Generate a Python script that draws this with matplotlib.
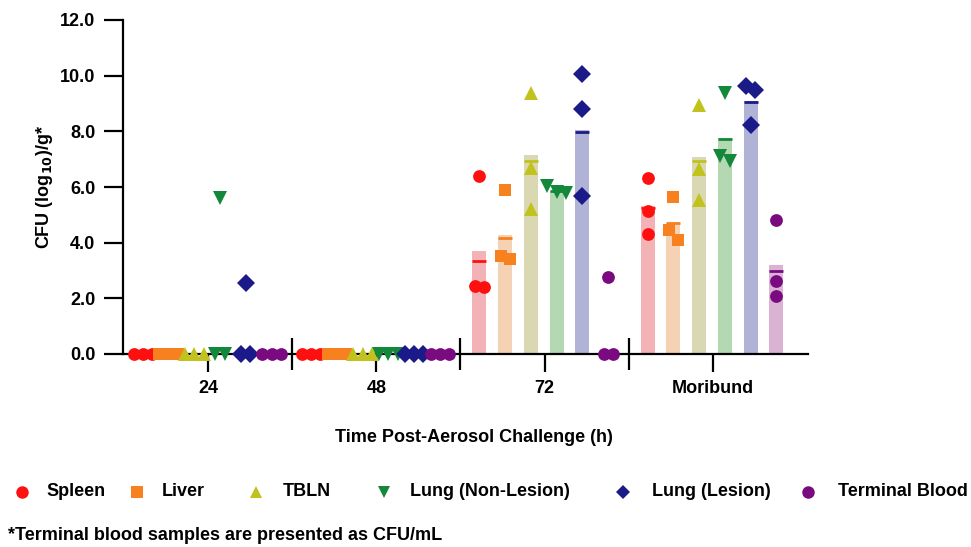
import numpy as np
import matplotlib
matplotlib.use("Agg")
import matplotlib.pyplot as plt

plt.rcParams['font.family'] = ['Liberation Sans', 'DejaVu Sans']
plt.rcParams['font.weight'] = 'bold'
plt.rcParams['mathtext.default'] = 'bf'

# ---------------- data ----------------
groups = ["24", "48", "72", "Moribund"]
tissues = ["Spleen", "Liver", "TBLN", "Lung (Non-Lesion)", "Lung (Lesion)", "Terminal Blood"]

# individual animal values per group (24, 48, 72, Moribund)
spleen = [[0, 0, 0], [0, 0, 0], [6.40, 2.40, 2.45], [6.31, 5.13, 4.30]]
liver = [[0, 0, 0], [0, 0, 0], [5.90, 3.42, 3.52], [5.65, 4.46, 4.08]]
tbln = [[0, 0, 0], [0, 0, 0], [9.39, 6.70, 5.20], [8.94, 6.65, 5.52]]
lung_nl = [[5.60, 0, 0], [0, 0, 0], [6.05, 5.80, 5.83], [9.38, 6.94, 7.13]]
lung_l = [[2.55, 0, 0], [0, 0, 0], [10.07, 8.81, 5.68], [9.63, 9.47, 8.22]]
blood = [[0, 0, 0], [0, 0, 0], [2.77, 0, 0], [4.82, 2.63, 2.10]]

# bar heights (nan = no bar) and summary line per group
bar_spleen = [np.nan, np.nan, 3.70, 5.30]
bar_liver = [np.nan, np.nan, 4.28, 4.72]
bar_tbln = [np.nan, np.nan, 7.14, 7.07]
bar_lung_nl = [np.nan, np.nan, 5.84, 7.77]
bar_lung_l = [np.nan, np.nan, 8.03, 9.08]
bar_blood = [np.nan, np.nan, np.nan, 3.20]

line_spleen = [np.nan, np.nan, 3.33, 5.25]
line_liver = [np.nan, np.nan, 4.15, 4.70]
line_tbln = [np.nan, np.nan, 6.95, 6.93]
line_lung_nl = [np.nan, np.nan, 5.84, 7.72]
line_lung_l = [np.nan, np.nan, 7.97, 9.04]
line_blood = [np.nan, np.nan, np.nan, 3.00]

yticks = [0, 2, 4, 6, 8, 10, 12]

values = [spleen, liver, tbln, lung_nl, lung_l, blood]
bars = [bar_spleen, bar_liver, bar_tbln, bar_lung_nl, bar_lung_l, bar_blood]
lines = [line_spleen, line_liver, line_tbln, line_lung_nl, line_lung_l, line_blood]

# ---------------- style ----------------
mcolors = ['#FF1010', '#F7801F', '#C2C21E', '#14883A', '#1A1A88', '#7A0A80']
bcolors = ['#F2B2B6', '#F5D2B4', '#DAD8B2', '#B4D9B2', '#B0B2D6', '#D9B2D4']
markers = ['o', 's', '^', 'v', 'D', 'o']
msizes = [9.2, 8.0, 9.5, 9.5, 9.5, 9.2]

W, H = 971, 547
fig = plt.figure(figsize=(W / 100, H / 100), dpi=100)
ax = fig.add_axes([123 / W, 1 - 354 / H, (808 - 123) / W, (354 - 20) / H])

slot = 0.153
barw = 0.083
jit = 0.055

for ti in range(6):
    for gi in range(4):
        xc = gi + (ti - 2.5) * slot - 0.005
        bh = bars[ti][gi]
        if not np.isnan(bh):
            ax.bar(xc, bh, width=barw, color=bcolors[ti], zorder=1, linewidth=0)
        lv = lines[ti][gi]
        if not np.isnan(lv):
            ax.hlines(lv, xc - barw / 2, xc + barw / 2, color=mcolors[ti], lw=2.0, zorder=2)
        # simple beeswarm
        vals = sorted(values[ti][gi], reverse=True)
        clusters = []
        for v in vals:
            if clusters and abs(clusters[-1][-1] - v) < 0.45:
                clusters[-1].append(v)
            else:
                clusters.append([v])
        for cl in clusters:
            k = len(cl)
            for j, v in enumerate(cl):
                xo = xc + (j - (k - 1) / 2) * jit
                ax.plot(xo, v, marker=markers[ti], color=mcolors[ti], ms=msizes[ti],
                        mew=0, ls='none', zorder=4, clip_on=False)

ax.set_xlim(-0.505, 3.565)
ax.set_ylim(0, 12)
for s in ['top', 'right']:
    ax.spines[s].set_visible(False)
for s in ['left', 'bottom']:
    ax.spines[s].set_linewidth(1.6)
    ax.spines[s].set_zorder(3)

ax.set_yticks(yticks)
ax.set_yticklabels([f"{v:.1f}" for v in yticks], fontsize=13, fontweight='bold')
ax.tick_params(axis='y', length=14, width=1.6, pad=6)
ax.set_xticks(range(4))
ax.set_xticklabels(groups, fontsize=13, fontweight='bold')
ax.set_xticks([0.5, 1.5, 2.5], minor=True)
ax.tick_params(axis='x', which='major', length=13, width=1.6, pad=6, direction='out')
ax.tick_params(axis='x', which='minor', length=23, width=1.6, direction='inout')

ax.set_ylabel(r"CFU (log$_{\mathbf{10}}$)/g*", fontsize=13, fontweight='bold')
ax.yaxis.set_label_coords(-0.099, 0.5)

# overlay in pixel coordinates for x label, legend and footnote
ov = fig.add_axes([0, 0, 1, 1])
ov.set_xlim(0, W)
ov.set_ylim(H, 0)
ov.axis('off')
ov.text(474, 437, "Time Post-Aerosol Challenge (h)", ha='center', va='center',
        fontsize=13, fontweight='bold')

leg_mx = [22, 137, 256, 384, 623, 808]
leg_tx = [46, 162, 283, 410, 652, 838]
leg_ms = [9, 8, 9, 9, 7.5, 9]
for ti in range(6):
    ov.plot(leg_mx[ti], 492, marker=markers[ti], color=mcolors[ti], ms=leg_ms[ti], mew=0, ls='none')
    ov.text(leg_tx[ti], 492, tissues[ti], ha='left', va='center', fontsize=13, fontweight='bold')
ov.text(8, 536, "*Terminal blood samples are presented as CFU/mL", ha='left', va='center',
        fontsize=13, fontweight='bold')

fig.savefig("out.png", dpi=100)
